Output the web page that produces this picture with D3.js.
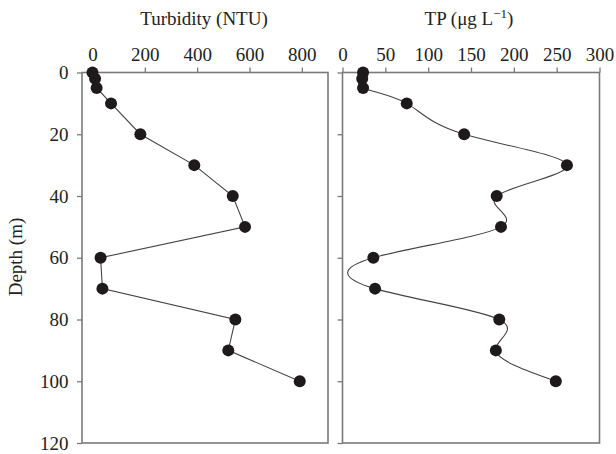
<!DOCTYPE html>
<html>
<head>
<meta charset="utf-8">
<script src="https://cdn.jsdelivr.net/npm/d3@7"></script>
<style>
  body { margin: 0; background: #fff; }
  text { font-family: "Liberation Serif", "Times New Roman", serif; fill: #222; }
</style>
</head>
<body>
<div class="chart"></div>
<script>
// Data
const depth = [0, 2, 5, 10, 20, 30, 40, 50, 60, 70, 80, 90, 100];
const turbidity = [0, 10, 16, 71, 183, 389, 536, 583, 31, 38, 546, 519, 792];
const tp = [24, 23, 24, 75, 142, 262, 180, 185, 36, 38, 183, 179, 249];

const depthTicks = [0, 20, 40, 60, 80, 100, 120];
const turbTicks = [0, 200, 400, 600, 800];
const tpTicks = [0, 50, 100, 150, 200, 250, 300];

const width = 616, height = 454;
const svg = d3.select('.chart').append('svg')
    .attr('width', width)
    .attr('height', height);

// Scales
const yScale = d3.scaleLinear().domain([0, 120]).range([72.5, 443]);
const xTurb = d3.scaleLinear().domain([-40, 900]).range([82, 328]);
const xTP = d3.scaleLinear().domain([0, 300]).range([342.5, 599.5]);

const frameColor = '#7a7a7a';
const fontSize = '19px';

function drawPanel(xScale, values, ticks, curve, title, showDepthLabels) {
    const g = svg.append('g');
    const [x0, x1] = xScale.range();
    const [y0, y1] = yScale.range();

    // Top axis
    const top = g.append('g').attr('transform', `translate(0,${y0})`)
        .call(d3.axisTop(xScale).tickValues(ticks).tickSize(5).tickPadding(6.5));
    top.select('.domain').remove();
    top.selectAll('line').attr('stroke', frameColor).attr('stroke-width', 1.3);
    top.selectAll('text').style('font-size', fontSize).style('font-family', '"Liberation Serif", serif').attr('fill', '#222');

    // Left axis (depth)
    const left = g.append('g').attr('transform', `translate(${x0},0)`)
        .call(d3.axisLeft(yScale).tickValues(depthTicks).tickSize(5).tickPadding(8.5)
            .tickFormat(showDepthLabels ? d3.format('d') : ''));
    left.select('.domain').remove();
    left.selectAll('line').attr('stroke', frameColor).attr('stroke-width', 1.3);
    left.selectAll('text').style('font-size', fontSize).style('font-family', '"Liberation Serif", serif').attr('fill', '#222');

    // Frame
    g.append('rect')
        .attr('x', x0).attr('y', y0)
        .attr('width', x1 - x0).attr('height', y1 - y0)
        .attr('fill', 'none')
        .attr('stroke', frameColor)
        .attr('stroke-width', 1.6);

    const pts = depth.map((d, i) => ({ depth: d, v: values[i] }));

    const line = d3.line()
        .x(d => xScale(d.v))
        .y(d => yScale(d.depth))
        .curve(curve);

    g.append('path')
        .datum(pts)
        .attr('d', line)
        .attr('fill', 'none')
        .attr('stroke', '#444')
        .attr('stroke-width', 1.1);

    g.selectAll('circle')
        .data(pts)
        .join('circle')
        .attr('cx', d => xScale(d.v))
        .attr('cy', d => yScale(d.depth))
        .attr('r', 6)
        .attr('fill', '#1c1a1b');

    return g;
}

drawPanel(xTurb, turbidity, turbTicks, d3.curveLinear, 'Turbidity (NTU)', true);
drawPanel(xTP, tp, tpTicks, d3.curveNatural, 'TP', false);

// Titles
svg.append('text')
    .attr('x', 204).attr('y', 25)
    .attr('text-anchor', 'middle')
    .style('font-size', fontSize)
    .text('Turbidity (NTU)');

const tpTitle = svg.append('text')
    .attr('x', 469).attr('y', 25)
    .attr('text-anchor', 'middle')
    .style('font-size', fontSize);
tpTitle.append('tspan').text('TP (μg L');
tpTitle.append('tspan').attr('dy', -7).style('font-size', '13px').text('−1');
tpTitle.append('tspan').attr('dy', 7).text(')');

// Depth label
svg.append('text')
    .attr('transform', 'rotate(-90)')
    .attr('x', -257).attr('y', 22)
    .attr('text-anchor', 'middle')
    .style('font-size', fontSize)
    .text('Depth (m)');
</script>
</body>
</html>
